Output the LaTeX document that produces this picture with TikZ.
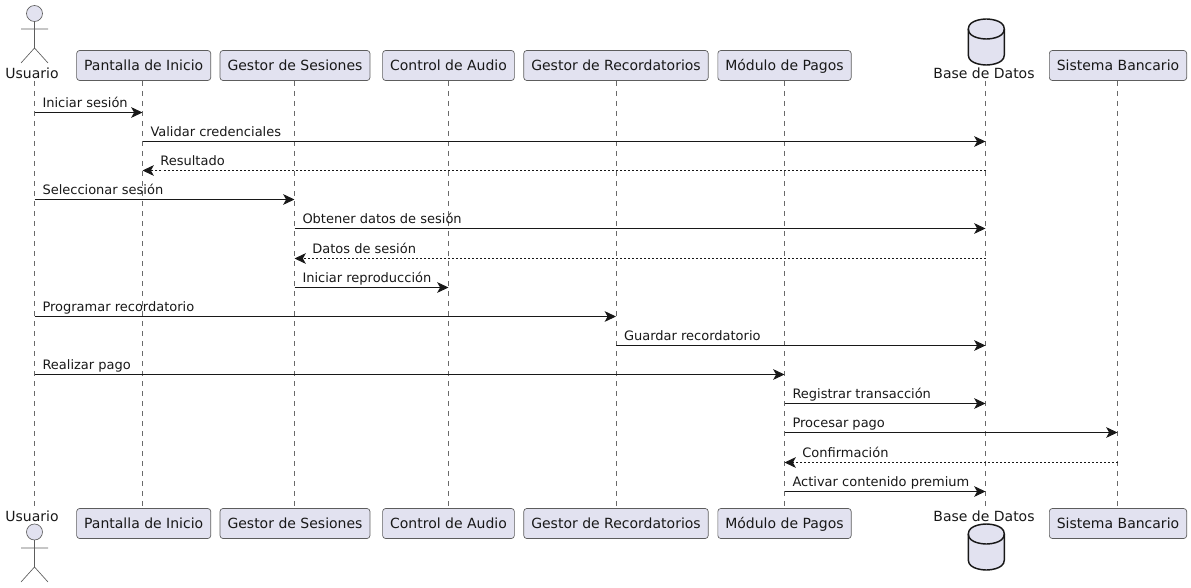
\documentclass[tikz,border=0pt]{standalone}
\usepackage{fontspec}
\setmainfont{DejaVu Sans}
\usetikzlibrary{arrows.meta}
\definecolor{partfill}{HTML}{E2E2F0}
\definecolor{partline}{HTML}{181818}
\tikzset{
  every node/.style={font=\fontsize{10.5}{12}\selectfont, text=partline},
  part/.style={draw=partline!70, line width=0.5pt, fill=partfill, rounded corners=2.2pt, inner xsep=5.6pt, inner ysep=0pt, minimum height=22.5pt, text height=9.4pt, text depth=2.4pt},
  plain/.style={inner sep=0pt, text height=8pt, text depth=2.4pt},
  life/.style={draw=partline!65, line width=0.4pt, dash pattern=on 3.75pt off 3.75pt},
  call/.style={draw=partline, line width=0.75pt, -{Stealth[length=8.5pt,width=8pt,inset=2.2pt]}},
  back/.style={call, dash pattern=on 1.5pt off 1.5pt},
  say/.style={anchor=base west, inner sep=0pt, font=\fontsize{9.75}{12}\selectfont},
  actorline/.style={draw=partline!70, line width=0.5pt},
  actorhead/.style={actorline, fill=partfill},
  dbshape/.style={draw=partline, line width=1.1pt, fill=partfill},
}
\begin{document}
\begin{tikzpicture}[x=0.75pt, y=-0.75pt]
    \useasboundingbox (0,0) rectangle (1191,588);
    % lifelines
    \foreach \n/\x in {v0/34.5, v1/142.5, v2/294.5, v3/448.5, v4/616, v5/784.5, v6/985.5, v7/1117.5}{
        \coordinate (\n) at (\x,81);
        \coordinate (\n b) at (\x,508);
        \draw[life] (\n) -- (\n b);
    }
    % boxes, top and bottom
    \foreach \n/\x/\txt in {1/143.7/Pantalla de Inicio, 2/295/Gestor de Sesiones, 3/448.5/Control de Audio, 4/616/Gestor de Recordatorios, 5/784.5/Módulo de Pagos, 7/1118/Sistema Bancario}{
        \node[part] (top\n) at (\x,65.5) {\txt};
        \node[part] (bot\n) at (\x,523.5) {\txt};
    }
    \node[plain] (top0) at (32,74.5) {Usuario};
    \node[plain] (bot0) at (32,518) {Usuario};
    \node[plain] (top6) at (984,74.5) {Base de Datos};
    \node[plain] (bot6) at (984,518) {Base de Datos};
    % actor, top
    \draw[actorhead] (34.5,13.5) circle (6pt);
    \draw[actorline] (34.5,21.5) -- (34.5,48) (21,29) -- (48,29) (21,63) -- (34.5,48) -- (48,63);
    % actor, bottom
    \draw[actorhead] (34.5,532) circle (6pt);
    \draw[actorline] (34.5,540) -- (34.5,567) (21,548) -- (48,548) (21,582) -- (34.5,567) -- (48,582);
    % database, top
    \draw[dbshape] (968.3,29) .. controls (968.3,19) and (986.3,19) .. (986.3,19) .. controls (986.3,19) and (1004.3,19) .. (1004.3,29) -- (1004.3,55) .. controls (1004.3,65) and (986.3,65) .. (986.3,65) .. controls (986.3,65) and (968.3,65) .. (968.3,55) -- cycle;
    \draw[dbshape, fill=none] (968.3,29) .. controls (968.3,39) and (986.3,39) .. (986.3,39) .. controls (986.3,39) and (1004.3,39) .. (1004.3,29);
    % database, bottom
    \draw[dbshape] (968.3,534) .. controls (968.3,524) and (986.3,524) .. (986.3,524) .. controls (986.3,524) and (1004.3,524) .. (1004.3,534) -- (1004.3,560) .. controls (1004.3,570) and (986.3,570) .. (986.3,570) .. controls (986.3,570) and (968.3,570) .. (968.3,560) -- cycle;
    \draw[dbshape, fill=none] (968.3,534) .. controls (968.3,544) and (986.3,544) .. (986.3,544) .. controls (986.3,544) and (1004.3,544) .. (1004.3,534);
    % calls
    \foreach \from/\to/\y/\txt in {v0/v1/112.5/Iniciar sesión, v1/v6/141.5/Validar credenciales, v0/v2/199.5/Seleccionar sesión, v2/v6/228.5/Obtener datos de sesión, v2/v3/287.5/Iniciar reproducción, v0/v4/316.5/Programar recordatorio, v4/v6/345.5/Guardar recordatorio, v0/v5/374.5/Realizar pago, v5/v6/403.5/Registrar transacción, v5/v7/432.5/Procesar pago, v5/v6/491.5/Activar contenido premium}{
        \draw[call] (\from |- 0,\y) -- (\to |- 0,\y);
        \node[say] at ([xshift=5.8pt,yshift=3.9pt]\from |- 0,\y) {\txt};
    }
    % returns
    \foreach \from/\to/\y/\txt in {v6/v1/170.5/Resultado, v6/v2/258.5/Datos de sesión, v7/v5/462.5/Confirmación}{
        \draw[back] (\from |- 0,\y) -- (\to |- 0,\y);
        \node[say] at ([xshift=13.2pt,yshift=3.9pt]\to |- 0,\y) {\txt};
    }
\end{tikzpicture}
\end{document}
